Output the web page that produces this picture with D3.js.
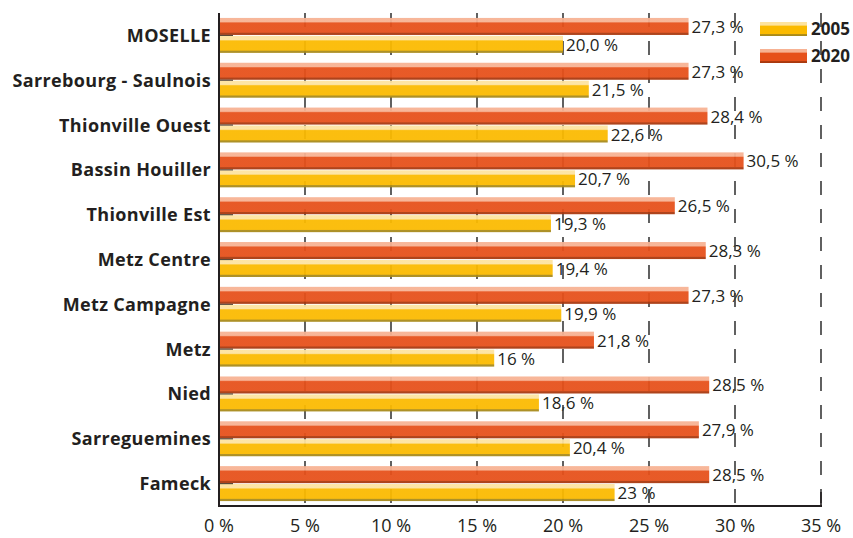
<!DOCTYPE html>
<html lang="fr">
<head>
<meta charset="UTF-8">
<title>Part des 2005 / 2020</title>
<style>
    body { margin: 0; padding: 0; background: #ffffff; overflow: hidden; }
    svg { display: block; font-family: "Open Sans", "DejaVu Sans", sans-serif; }
    .cat { font-size: 18px; font-weight: 700; fill: #231f20; letter-spacing: 0.35px; }
    .val { font-size: 17px; fill: #231f20; }
    .tick-x { font-size: 18px; fill: #231f20; }
    .leg { font-size: 17px; font-weight: 700; fill: #231f20; }
</style>
<script src="https://d3js.org/d3.v7.min.js"></script>
</head>
<body>
<div id="chart"></div>
<script>
    // Data
    const territoires = ["MOSELLE", "Sarrebourg - Saulnois", "Thionville Ouest", "Bassin Houiller",
        "Thionville Est", "Metz Centre", "Metz Campagne", "Metz", "Nied", "Sarreguemines", "Fameck"];
    const years = ["2020", "2005"];
    const values2020 = [27.3, 27.3, 28.4, 30.5, 26.5, 28.3, 27.3, 21.8, 28.5, 27.9, 28.5];
    const values2005 = [20.0, 21.5, 22.6, 20.7, 19.3, 19.4, 19.9, 16, 18.6, 20.4, 23];
    const labels2020 = ["27,3 %", "27,3 %", "28,4 %", "30,5 %", "26,5 %", "28,3 %", "27,3 %", "21,8 %", "28,5 %", "27,9 %", "28,5 %"];
    const labels2005 = ["20,0 %", "21,5 %", "22,6 %", "20,7 %", "19,3 %", "19,4 %", "19,9 %", "16 %", "18,6 %", "20,4 %", "23 %"];
    const xTicks = [0, 5, 10, 15, 20, 25, 30, 35];

    const width = 853, height = 538;
    const x0 = 219, x1 = 821, yTop = 13, yBot = 506;

    const colors = {
        "2020": { light: "#f7b293", main: "#e6501a", dark: "#a9380e" },
        "2005": { light: "#fde3a0", main: "#fbba00", dark: "#a88a1a" }
    };

    const svg = d3.select("#chart").append("svg")
        .attr("width", width)
        .attr("height", height);

    // gradients for the bars
    const defs = svg.append("defs");
    years.forEach(yr => {
        const g = defs.append("linearGradient")
            .attr("id", "grad" + yr)
            .attr("x1", 0).attr("y1", 0).attr("x2", 0).attr("y2", 1);
        const c = colors[yr];
        g.append("stop").attr("offset", "0%").attr("stop-color", c.light);
        g.append("stop").attr("offset", "22%").attr("stop-color", c.light);
        g.append("stop").attr("offset", "30%").attr("stop-color", c.main);
        g.append("stop").attr("offset", "84%").attr("stop-color", c.main);
        g.append("stop").attr("offset", "90%").attr("stop-color", c.dark);
        g.append("stop").attr("offset", "100%").attr("stop-color", c.dark);
    });

    const x = d3.scaleLinear().domain([0, 35]).range([x0, x1]);
    const y = d3.scaleBand().domain(territoires).range([yTop, yBot])
        .paddingInner(0.22).paddingOuter(0.11);
    const ySub = d3.scaleBand().domain(years).range([0, y.bandwidth()]).paddingInner(0.05);

    const rows = territoires.map((t, i) => ({
        name: t,
        bars: [
            { year: "2020", v: values2020[i], label: labels2020[i] },
            { year: "2005", v: values2005[i], label: labels2005[i] }
        ]
    }));

    // value labels
    const groups = svg.append("g").selectAll("g")
        .data(rows)
        .join("g")
        .attr("transform", d => `translate(0,${y(d.name)})`);

    groups.selectAll("text.val")
        .data(d => d.bars)
        .join("text")
        .attr("class", "val")
        .attr("x", d => x(d.v) + 3)
        .attr("y", d => ySub(d.year) + ySub.bandwidth() / 2 + 6.5)
        .text(d => d.label);

    // dashed grid
    svg.append("g").selectAll("line")
        .data(xTicks.filter(t => t > 0))
        .join("line")
        .attr("x1", d => x(d)).attr("x2", d => x(d))
        .attr("y1", yTop).attr("y2", yBot)
        .attr("stroke", "#3a3a3a")
        .attr("stroke-width", 1.6)
        .attr("stroke-dasharray", "14,14");

    // bars
    const barGroups = svg.append("g").selectAll("g")
        .data(rows)
        .join("g")
        .attr("transform", d => `translate(0,${y(d.name)})`);

    barGroups.selectAll("rect")
        .data(d => d.bars)
        .join("rect")
        .attr("x", x(0))
        .attr("y", d => ySub(d.year))
        .attr("width", d => x(d.v) - x(0))
        .attr("height", ySub.bandwidth())
        .attr("fill", d => `url(#grad${d.year})`)
        .attr("fill-opacity", 0.94);

    // inner ticks of the category axis
    svg.append("g").selectAll("line")
        .data(territoires)
        .join("line")
        .attr("x1", x0).attr("x2", x0 + 14)
        .attr("y1", d => y(d) + y.bandwidth() / 2)
        .attr("y2", d => y(d) + y.bandwidth() / 2)
        .attr("stroke", "#5a4a3a")
        .attr("stroke-width", 1.2);

    // axes lines
    svg.append("line")
        .attr("x1", x0).attr("x2", x0).attr("y1", yTop).attr("y2", yBot + 1)
        .attr("stroke", "#231f20").attr("stroke-width", 2);
    svg.append("line")
        .attr("x1", x0 - 1).attr("x2", x1 + 1).attr("y1", yBot).attr("y2", yBot)
        .attr("stroke", "#231f20").attr("stroke-width", 2);
    svg.append("line")
        .attr("x1", x1).attr("x2", x1).attr("y1", yBot - 14).attr("y2", yBot)
        .attr("stroke", "#231f20").attr("stroke-width", 1.6);

    // category labels
    svg.append("g").selectAll("text")
        .data(territoires)
        .join("text")
        .attr("class", "cat")
        .attr("x", 211)
        .attr("y", d => y(d) + y.bandwidth() / 2 + 6.5)
        .attr("text-anchor", "end")
        .text(d => d);

    // x tick labels
    svg.append("g").selectAll("text")
        .data(xTicks)
        .join("text")
        .attr("class", "tick-x")
        .attr("x", d => x(d))
        .attr("y", 532)
        .attr("text-anchor", "middle")
        .text(d => d + " %");

    // legend
    const legend = svg.append("g").selectAll("g")
        .data(["2005", "2020"])
        .join("g")
        .attr("transform", (d, i) => `translate(760,${22 + i * 27})`);
    legend.append("rect")
        .attr("width", 47).attr("height", 14)
        .attr("fill", d => `url(#grad${d})`);
    legend.append("text")
        .attr("class", "leg")
        .attr("x", 51).attr("y", 13)
        .text(d => d);
</script>
</body>
</html>
